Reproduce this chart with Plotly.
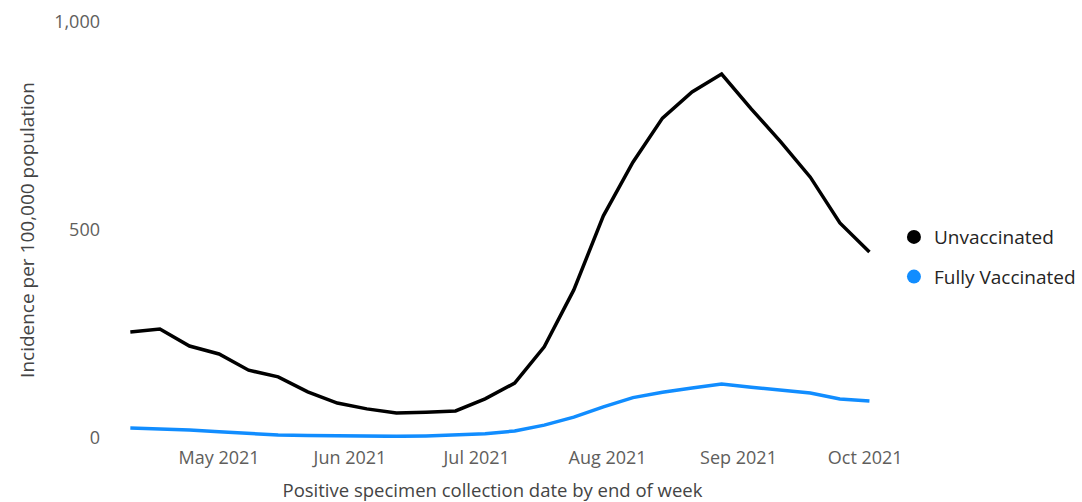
import plotly.graph_objects as go
import pandas as pd

# Weekly incidence per 100,000 population, by end of week (Saturday)
week_ending = pd.date_range("2021-04-10", "2021-10-02", freq="7D")

unvaccinated = [255, 262, 221, 202, 163, 147, 111, 84, 70, 60, 62, 65, 94, 132,
                219, 356, 534, 663, 769, 832, 875, 791, 712, 627, 517, 447]
fully_vaccinated = [24, 22, 19, 15, 10, 7, 6, 5, 4, 4, 5, 7, 10, 17,
                    31, 50, 75, 97, 110, 120, 130, 122, 114, 108, 94, 89]

series_names = ["Unvaccinated", "Fully Vaccinated"]
series_colors = ["#000000", "#118DFF"]

y_tick_values = [0, 500, 1000]
y_tick_labels = ["0", "500", "1,000"]
x_tick_values = ["2021-05-01", "2021-06-01", "2021-07-01",
                 "2021-08-01", "2021-09-01", "2021-10-01"]
x_tick_labels = ["May 2021", "Jun 2021", "Jul 2021",
                 "Aug 2021", "Sep 2021", "Oct 2021"]

FONT = "Open Sans, Segoe UI, sans-serif"

fig = go.Figure()

for name, values, color in zip(series_names, [unvaccinated, fully_vaccinated], series_colors):
    fig.add_trace(go.Scatter(
        x=week_ending, y=values, mode="lines", name=name,
        line=dict(color=color, width=3.5),
        showlegend=False,
    ))

# Legend entries drawn as round markers
for i, (name, color) in enumerate(zip(series_names, series_colors)):
    fig.add_trace(go.Scatter(
        x=[None], y=[None], mode="markers", name=name,
        marker=dict(color=color, size=14, symbol="circle"),
        legendgroup=f"g{i}", showlegend=True,
    ))

fig.update_layout(
    width=1082, height=502,
    margin=dict(l=105, r=202, t=22, b=64, autoexpand=False),
    paper_bgcolor="white", plot_bgcolor="white",
    font=dict(family=FONT, size=18, color="#605E5C"),
    xaxis=dict(
        range=["2021-04-04", "2021-10-04 12:00"],
        tickvals=x_tick_values, ticktext=x_tick_labels,
        showgrid=False, zeroline=False, showline=False, ticks="",
        ticklabelstandoff=7,
        tickfont=dict(size=18, color="#605E5C"),
        title=dict(text="Positive specimen collection date by end of week",
                   font=dict(size=18.5, color="#444444"), standoff=16),
    ),
    yaxis=dict(
        range=[0, 1000],
        tickvals=y_tick_values, ticktext=y_tick_labels,
        showgrid=False, zeroline=False, showline=False, ticks="",
        ticklabelstandoff=4,
        tickfont=dict(size=18, color="#605E5C"),
        title=dict(text="Incidence per 100,000 population",
                   font=dict(size=19, color="#444444"), standoff=14),
    ),
    legend=dict(
        x=1.018, y=0.435, xanchor="left", yanchor="middle",
        font=dict(size=19, color="#252423"),
        tracegroupgap=12, itemwidth=30,
        bgcolor="rgba(0,0,0,0)",
    ),
)

fig.write_html("out.html")
